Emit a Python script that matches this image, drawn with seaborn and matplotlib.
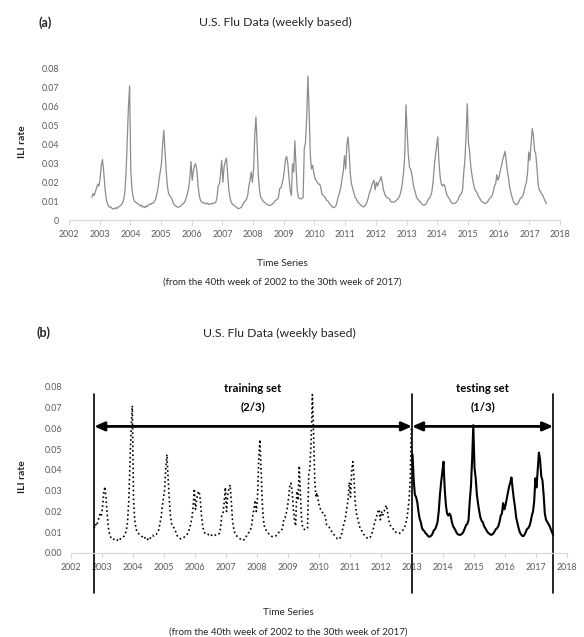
import matplotlib
matplotlib.use('Agg')
import matplotlib.pyplot as plt
import pandas as pd
import seaborn as sns
import numpy as np

# ILI rate, read every two weeks starting week 40 of each flu season
s2002 = [0.012, 0.014, 0.013, 0.015, 0.017, 0.019, 0.018, 0.022, 0.029, 0.032, 0.026, 0.018, 0.012,
         0.009, 0.0075, 0.0068, 0.007, 0.0062, 0.0058, 0.006, 0.0065, 0.006, 0.0068, 0.007, 0.0075, 0.008]
s2003 = [0.009, 0.011, 0.015, 0.025, 0.042, 0.060, 0.071, 0.026, 0.016, 0.012, 0.010, 0.0095, 0.009,
         0.0085, 0.008, 0.0075, 0.008, 0.0068, 0.0072, 0.0065, 0.0075, 0.007, 0.008, 0.0085, 0.0082, 0.009]
s2004 = [0.009, 0.010, 0.011, 0.014, 0.017, 0.022, 0.026, 0.030, 0.040, 0.0475, 0.036, 0.026, 0.018,
         0.014, 0.013, 0.012, 0.011, 0.009, 0.008, 0.0075, 0.007, 0.0068, 0.007, 0.0072, 0.008, 0.0085]
s2005 = [0.009, 0.010, 0.012, 0.014, 0.017, 0.022, 0.031, 0.021, 0.026, 0.029, 0.0298, 0.026, 0.018,
         0.013, 0.0105, 0.0095, 0.009, 0.0092, 0.0088, 0.0085, 0.009, 0.0082, 0.0085, 0.0088, 0.0085, 0.009]
s2006 = [0.009, 0.0095, 0.012, 0.018, 0.019, 0.024, 0.0316, 0.020, 0.028, 0.031, 0.0328, 0.025, 0.016,
         0.012, 0.0095, 0.0085, 0.008, 0.0075, 0.007, 0.0065, 0.006, 0.0062, 0.0065, 0.007, 0.0085, 0.0095]
s2007 = [0.010, 0.011, 0.013, 0.018, 0.021, 0.0254, 0.020, 0.027, 0.045, 0.0546, 0.040, 0.024, 0.016,
         0.012, 0.0113, 0.010, 0.0095, 0.009, 0.0085, 0.008, 0.0078, 0.0078, 0.008, 0.0085, 0.009, 0.010]
s2008 = [0.0105, 0.011, 0.012, 0.0166, 0.017, 0.019, 0.022, 0.026, 0.032, 0.0337, 0.030, 0.022, 0.016,
         0.013, 0.0298, 0.0254, 0.042, 0.028, 0.016, 0.012, 0.0115, 0.0112, 0.0113, 0.012, 0.038, 0.041]
s2009 = [0.055, 0.0763, 0.058, 0.035, 0.027, 0.029, 0.025, 0.022, 0.021, 0.020, 0.019, 0.019, 0.017,
         0.0135, 0.013, 0.0125, 0.0115, 0.0105, 0.010, 0.009, 0.0082, 0.0075, 0.0068, 0.0065, 0.007, 0.0078]
s2010 = [0.0105, 0.013, 0.015, 0.018, 0.022, 0.026, 0.034, 0.027, 0.040, 0.044, 0.035, 0.024, 0.019,
         0.0166, 0.014, 0.012, 0.0113, 0.010, 0.009, 0.0085, 0.0078, 0.0072, 0.0069, 0.0072, 0.008, 0.0095]
s2011 = [0.0115, 0.014, 0.016, 0.018, 0.020, 0.021, 0.016, 0.020, 0.018, 0.020, 0.021, 0.023, 0.020,
         0.016, 0.014, 0.0125, 0.012, 0.0115, 0.0113, 0.010, 0.0095, 0.0095, 0.0095, 0.0098, 0.0105, 0.011]
s2012 = [0.012, 0.0135, 0.016, 0.020, 0.0254, 0.035, 0.061, 0.0475, 0.035, 0.028, 0.027, 0.0245, 0.020,
         0.0165, 0.0148, 0.012, 0.011, 0.0105, 0.0095, 0.009, 0.0082, 0.0078, 0.008, 0.0085, 0.0095, 0.011]
s2013 = [0.0115, 0.013, 0.015, 0.020, 0.028, 0.034, 0.039, 0.044, 0.031, 0.023, 0.019, 0.018, 0.019,
         0.018, 0.015, 0.013, 0.012, 0.011, 0.0098, 0.009, 0.0088, 0.0087, 0.009, 0.0095, 0.0105, 0.012]
s2014 = [0.0135, 0.014, 0.016, 0.025, 0.032, 0.045, 0.0616, 0.041, 0.036, 0.028, 0.0237, 0.020, 0.017,
         0.0155, 0.0148, 0.013, 0.012, 0.011, 0.010, 0.0095, 0.009, 0.0087, 0.009, 0.0095, 0.0105, 0.0115]
s2015 = [0.012, 0.013, 0.015, 0.018, 0.019, 0.024, 0.021, 0.023, 0.026, 0.029, 0.032, 0.034, 0.0364,
         0.031, 0.026, 0.022, 0.017, 0.0145, 0.012, 0.010, 0.009, 0.0083, 0.0081, 0.0088, 0.010, 0.0115]
s2016 = [0.012, 0.013, 0.015, 0.018, 0.020, 0.025, 0.036, 0.0316, 0.040, 0.0484, 0.045, 0.037, 0.035,
         0.028, 0.019, 0.016, 0.015, 0.014, 0.013, 0.0115, 0.010, 0.0087]

seasons = {2002: s2002, 2003: s2003, 2004: s2004, 2005: s2005, 2006: s2006, 2007: s2007,
           2008: s2008, 2009: s2009, 2010: s2010, 2011: s2011, 2012: s2012, 2013: s2013,
           2014: s2014, 2015: s2015, 2016: s2016}
years = list(range(2002, 2019))
split_year = 2013.0

frames = []
for yr, vals in seasons.items():
    d = pd.date_range(f'{yr}-10-01', periods=len(vals), freq='14D')
    frames.append(pd.DataFrame({'t': d.year + (d.dayofyear - 1) / 365.25, 'ili': vals}))
flu = pd.concat(frames, ignore_index=True)

sns.set_theme(style='white')
plt.rcParams['font.family'] = ['Lato', 'DejaVu Sans']
txt = '#262626'
tick_col = '#595959'
axis_col = '#d9d9d9'

fig = plt.figure(figsize=(5.84, 6.37), dpi=100)
ax1 = fig.add_axes([0.118, 0.6546, 0.841, 0.2371])
ax2 = fig.add_axes([0.1216, 0.1319, 0.8493, 0.2606])


def style(ax, ylabels, ypad):
    ax.set_xlim(2002, 2018)
    ax.set_ylim(0, 0.08)
    ax.set_xticks(years)
    ax.set_xticklabels([str(y) for y in years])
    ax.set_yticks(np.arange(0, 0.081, 0.01))
    ax.set_yticklabels(ylabels)
    for s in ['top', 'right', 'left']:
        ax.spines[s].set_visible(False)
    ax.spines['bottom'].set_color(axis_col)
    ax.spines['bottom'].set_linewidth(0.9)
    ax.tick_params(axis='x', bottom=True, length=3.5, width=0.8, color=axis_col,
                   labelsize=6.4, labelcolor=tick_col, pad=4)
    ax.tick_params(axis='y', left=False, length=0, labelsize=6.4, labelcolor=tick_col, pad=ypad)
    ax.set_xlabel('')
    ax.set_ylabel('')
    ax.grid(False)


# ---------------- (a) ----------------
sns.lineplot(data=flu, x='t', y='ili', ax=ax1, color='#8c8c8c', linewidth=0.9)
style(ax1, ['0'] + ['%.2f' % v for v in np.arange(0.01, 0.081, 0.01)], 7)

fig.text(0.077, 0.964, '(a)', fontsize=9, fontweight='bold', color=txt, ha='center', va='center')
fig.text(0.471, 0.964, 'U.S. Flu Data (weekly based)', fontsize=8.8, color=txt, ha='center', va='center')
fig.text(0.039, 0.777, 'ILI rate', fontsize=7.5, fontweight='bold', color=txt, rotation=90,
         ha='center', va='center')
fig.text(0.483, 0.587, 'Time Series', fontsize=7.2, color=txt, ha='center', va='center')
fig.text(0.483, 0.557, '(from the 40th week of 2002 to the 30th week of 2017)', fontsize=7, color=txt,
         ha='center', va='center')

# ---------------- (b) ----------------
train = flu[flu['t'] <= split_year]
test = flu[flu['t'] > split_year]
sns.lineplot(data=train, x='t', y='ili', ax=ax2, color='black', linestyle=':', linewidth=1.2)
sns.lineplot(data=test, x='t', y='ili', ax=ax2, color='black', linewidth=1.5)
style(ax2, ['%.2f' % v for v in np.arange(0, 0.081, 0.01)], 6.5)

t0, t1 = flu['t'].iloc[0], flu['t'].iloc[-1]
for xv in [t0, split_year, t1]:
    ax2.axvline(xv, ymin=-0.24, ymax=0.96, color='black', linewidth=1.2, clip_on=False)

arrow = dict(arrowstyle='<|-|>,head_length=0.5,head_width=0.22', color='black', lw=2,
             shrinkA=0, shrinkB=0)
ax2.annotate('', xy=(t0, 0.061), xytext=(split_year, 0.061), arrowprops=arrow)
ax2.annotate('', xy=(split_year, 0.061), xytext=(t1, 0.061), arrowprops=arrow)

ax2.text((t0 + split_year) / 2, 0.0795, 'training set', fontsize=8.2, fontweight='bold',
         ha='center', va='center', color='black')
ax2.text((t0 + split_year) / 2, 0.0705, '(2/3)', fontsize=8.2, fontweight='bold',
         ha='center', va='center', color='black')
ax2.text((split_year + t1) / 2, 0.0795, 'testing set', fontsize=8.2, fontweight='bold',
         ha='center', va='center', color='black')
ax2.text((split_year + t1) / 2, 0.0705, '(1/3)', fontsize=8.2, fontweight='bold',
         ha='center', va='center', color='black')

fig.text(0.075, 0.477, '(b)', fontsize=9, fontweight='bold', color=txt, ha='center', va='center')
fig.text(0.478, 0.477, 'U.S. Flu Data (weekly based)', fontsize=8.8, color=txt, ha='center', va='center')
fig.text(0.039, 0.251, 'ILI rate', fontsize=7.5, fontweight='bold', color=txt, rotation=90,
         ha='center', va='center')
fig.text(0.493, 0.038, 'Time Series', fontsize=7.2, color=txt, ha='center', va='center')
fig.text(0.493, 0.008, '(from the 40th week of 2002 to the 30th week of 2017)', fontsize=7, color=txt,
         ha='center', va='center')

fig.savefig('out.png', dpi=100)
